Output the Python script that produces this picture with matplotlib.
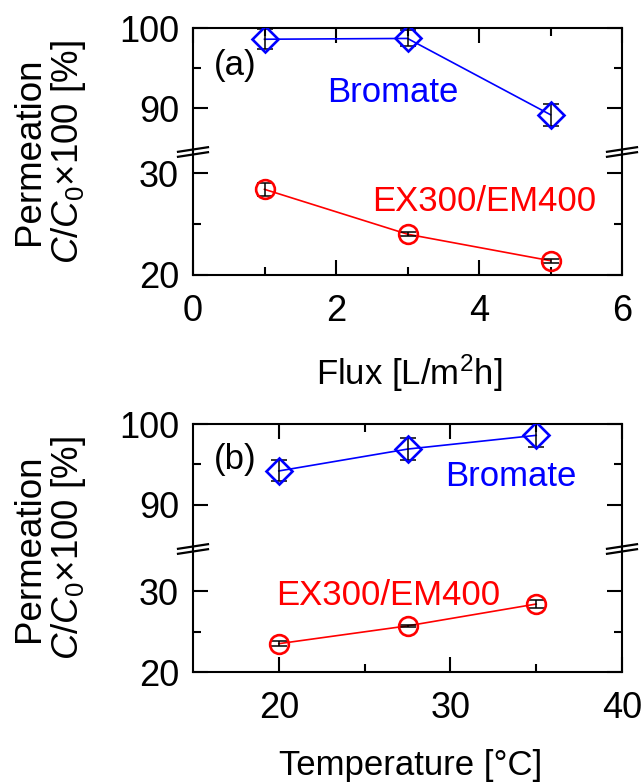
import matplotlib
matplotlib.use("Agg")
import matplotlib.pyplot as plt
from matplotlib.lines import Line2D

plt.rcParams['font.family'] = ['Liberation Sans', 'DejaVu Sans']
plt.rcParams['mathtext.fontset'] = 'custom'
plt.rcParams['mathtext.rm'] = 'Liberation Sans'
plt.rcParams['mathtext.it'] = 'Liberation Sans:italic'
plt.rcParams['font.size'] = 25

# panel (a): flux
flux = [1, 3, 5]
bromate_flux = [98.6, 98.7, 89.2]
bromate_flux_err = [1.25, 1.0, 1.35]
ex_flux = [28.4, 24.0, 21.4]
ex_flux_err = [0.65, 0.2, 0.2]

# panel (b): temperature
temp = [20, 27.5, 35]
bromate_temp = [94.2, 96.9, 98.6]
bromate_temp_err = [1.3, 1.4, 1.4]
ex_temp = [23.5, 25.7, 28.4]
ex_temp_err = [0.3, 0.15, 0.5]

W, H = 644, 782
fig = plt.figure(figsize=(W / 100, H / 100), dpi=100)

left_px, right_px = 193, 622


def box(top_px, bot_px):
    return [left_px / W, 1 - bot_px / H, (right_px - left_px) / W, (bot_px - top_px) / H]


def style(ax, upper):
    for s in ax.spines.values():
        s.set_linewidth(1.5)
    if upper:
        ax.spines['bottom'].set_visible(False)
        ax.tick_params(which='both', direction='in', top=True, bottom=False,
                       left=True, right=True, labelbottom=False)
    else:
        ax.spines['top'].set_visible(False)
        ax.tick_params(which='both', direction='in', top=False, bottom=True,
                       left=True, right=True)
    ax.tick_params(which='major', length=11, width=1.5, labelsize=26)
    ax.tick_params(which='minor', length=6, width=1.5)
    ax.tick_params(axis='y', pad=10)
    ax.tick_params(axis='x', pad=14)


def breaks(y_px):
    for xs in (left_px, right_px):
        for off in (-2.5, 2.5):
            x0, x1 = xs - 15, xs + 15
            y0, y1 = y_px + off + 2.3, y_px + off - 2.3
            fig.add_artist(Line2D([x0 / W, x1 / W], [1 - y0 / H, 1 - y1 / H],
                                  color='black', lw=1.6, transform=fig.transFigure))


def panel(top_px, brk_px, bot_px, x, bro, bro_err, ex, ex_err, xlim, xmaj, xmin, lo_lim):
    ax_up = fig.add_axes(box(top_px, brk_px))
    ax_lo = fig.add_axes(box(brk_px, bot_px))
    for ax in (ax_up, ax_lo):
        ax.set_xlim(xlim)
        ax.set_xticks(xmaj)
        ax.set_xticks(xmin, minor=True)
    ax_up.set_ylim(84.56, 100)
    ax_up.set_yticks([90, 100])
    ax_up.set_yticks([95], minor=True)
    ax_lo.set_ylim(20, lo_lim)
    ax_lo.set_yticks([20, 30])
    ax_lo.set_yticks([25], minor=True)
    style(ax_up, True)
    style(ax_lo, False)

    ax_up.plot(x, bro, color='blue', lw=1.2, zorder=2)
    ax_up.errorbar(x, bro, yerr=bro_err, fmt='none', ecolor='black', elinewidth=1.1,
                   capsize=6, capthick=1.1, zorder=3)
    ax_up.plot(x, bro, linestyle='none', marker='D', ms=13, mfc='none', mec='blue',
               mew=1.9, zorder=4)

    ax_lo.plot(x, ex, color='red', lw=1.2, zorder=2)
    ax_lo.errorbar(x, ex, yerr=ex_err, fmt='none', ecolor='black', elinewidth=1.1,
                   capsize=6, capthick=1.1, zorder=3)
    ax_lo.plot(x, ex, linestyle='none', marker='o', ms=13.5, mfc='none', mec='red',
               mew=1.9, zorder=4)

    breaks(brk_px)
    cy = (top_px + bot_px) / 2
    fig.text(50 / W, 1 - cy / H, 'Permeation\n$C/C_0$×100 [%]', rotation=90, fontsize=26.5,
             ha='center', va='center', multialignment='center', linespacing=1.1)
    return ax_up, ax_lo


a_up, a_lo = panel(28, 152, 275, flux, bromate_flux, bromate_flux_err, ex_flux, ex_flux_err,
                   (0, 6), [0, 2, 4, 6], [1, 3, 5], 32.06)
a_up.text(0.29, 95.3, '(a)', ha='left', va='center')
a_up.text(2.8, 92.0, 'Bromate', color='blue', ha='center', va='center')
a_lo.text(4.07, 27.2, 'EX300/EM400', color='red', ha='center', va='center')
fig.text(409 / W, 1 - 373 / H, 'Flux [L/m$^2$h]', ha='center', va='center')

b_up, b_lo = panel(424, 549, 672, temp, bromate_temp, bromate_temp_err, ex_temp, ex_temp_err,
                   (15, 40), [20, 30, 40], [25, 35], 35.2)
b_up.text(16.2, 95.6, '(b)', ha='left', va='center')
b_up.text(33.5, 93.5, 'Bromate', color='blue', ha='center', va='center')
b_lo.text(26.4, 29.4, 'EX300/EM400', color='red', ha='center', va='center')
fig.text(411 / W, 1 - 765 / H, 'Temperature [°C]', ha='center', va='center')

fig.savefig('out.png', dpi=100)
